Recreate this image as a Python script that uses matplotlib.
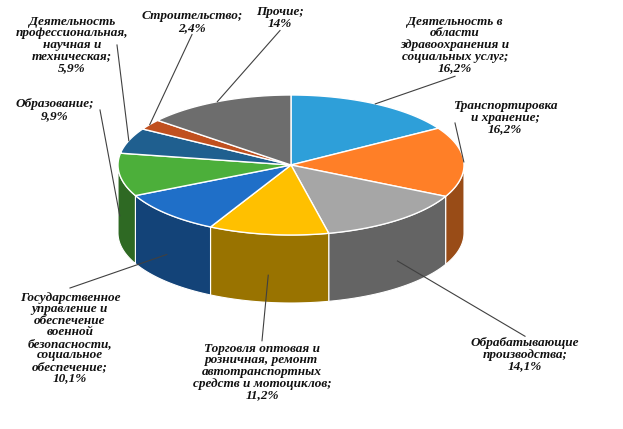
import numpy as np
import matplotlib
matplotlib.use("Agg")
import matplotlib.pyplot as plt
from matplotlib.colors import to_rgb

names = ["Деятельность в\nобласти\nздравоохранения и\nсоциальных услуг;",
         "Транспортировка\nи хранение;",
         "Обрабатывающие\nпроизводства;",
         "Торговля оптовая и\nрозничная, ремонт\nавтотранспортных\nсредств и мотоциклов;",
         "Государственное\nуправление и\nобеспечение\nвоенной\nбезопасности,\nсоциальное\nобеспечение;",
         "Образование;",
         "Деятельность\nпрофессиональная,\nнаучная и\nтехническая;",
         "Строительство;",
         "Прочие;"]
values = [16.2, 16.2, 14.1, 11.2, 10.1, 9.9, 5.9, 2.4, 14]
value_labels = ["16,2%", "16,2%", "14,1%", "11,2%", "10,1%", "9,9%", "5,9%", "2,4%", "14%"]
colors = ["#2E9FD9", "#FF7F27", "#A6A6A6", "#FFC000", "#1F6FC8", "#4CAF3A",
          "#1F5F8F", "#C0501F", "#6D6D6D"]
label_pos = [(455, 45), (505, 118), (525, 355), (262, 372), (70, 338),
             (55, 110), (72, 45), (192, 22), (280, 18)]

cx, cy, rx, ry, depth = 291, 165, 173, 70, 68

fig = plt.figure(figsize=(6.23, 4.29), dpi=100)
ax = fig.add_axes([0, 0, 1, 1])
ax.set_xlim(0, 623)
ax.set_ylim(429, 0)
ax.axis("off")

def pt(th, dy=0):
    return cx + rx * np.sin(th), cy - ry * np.cos(th) + dy

tot = sum(values)
bounds = np.concatenate([[0], np.cumsum(values)]) / tot * 2 * np.pi

def darker(c, f=0.6):
    r, g, b = to_rgb(c)
    return (r * f, g * f, b * f)

# side walls (front half: pi/2..3pi/2)
for i, c in enumerate(colors):
    a0, a1 = max(bounds[i], np.pi / 2), min(bounds[i + 1], 3 * np.pi / 2)
    if a1 <= a0:
        continue
    th = np.linspace(a0, a1, 80)
    xs, ys = pt(th)
    X = np.concatenate([xs, xs[::-1]])
    Y = np.concatenate([ys, (ys + depth)[::-1]])
    ax.fill(X, Y, color=darker(c), lw=0.8, ec="white", zorder=1)
    # gradient-ish highlight
    n = len(th)
    for k in range(n - 1):
        f = 0.55 + 0.35 * (1 - abs((th[k] - np.pi)) / (np.pi / 2)) * 0.0 + 0.3 * np.sin((th[k] - a0) / max(a1 - a0, 1e-6) * np.pi) * 0
    
# top
for i, c in enumerate(colors):
    th = np.linspace(bounds[i], bounds[i + 1], 100)
    xs, ys = pt(th)
    ax.fill(np.concatenate([[cx], xs]), np.concatenate([[cy], ys]),
            color=c, ec="white", lw=1.0, zorder=2)

# labels
for i in range(len(values)):
    mid = (bounds[i] + bounds[i + 1]) / 2
    ex, ey = pt(mid)
    if np.cos(mid) < 0:
        ey += depth * 0.6
    tx, ty = label_pos[i]
    nlines = names[i].count("\n") + 2
    h = nlines * 12.5
    # anchor point of leader at text edge nearest slice
    ax_ = tx
    ay_ = ty + h / 2 if ey > ty else ty - h / 2
    if i in (1,):
        ax_, ay_ = tx - 50, ty + 5
    if i in (5, 6):
        ax_, ay_ = tx + 45, ty
    ax.plot([ax_, ex], [ay_, ey], color="#404040", lw=0.8, zorder=3)
    ax.text(tx, ty, names[i] + "\n" + value_labels[i], ha="center", va="center",
            fontsize=9.5, family="Liberation Serif", style="italic",
            weight="bold", color="#111111", linespacing=0.95, zorder=4)

fig.savefig("out.png", dpi=100)
